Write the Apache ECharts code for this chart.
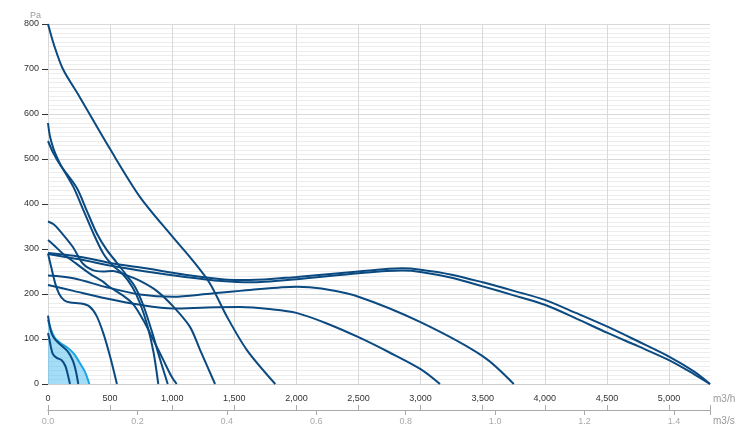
<!DOCTYPE html>
<html>
<head>
<meta charset="utf-8">
<script src="https://cdn.jsdelivr.net/npm/echarts@6/dist/echarts.min.js"></script>
<style>html,body{margin:0;padding:0;background:#fff}#c{width:750px;height:446px}</style>
</head>
<body>
<div id="c"></div>
<script>
// Airflow (m3/h) vs pressure (Pa) curves
const curveLight = [[0,143],[20,124],[56,102],[100,91],[160,80],[210,67],[258,46],[298,27],[333,0]];
const curve150 = [[0,152],[12,132],[30,112],[60,98],[110,85],[160,72],[200,52],[225,28],[244,0]];
const curve110 = [[0,113],[12,98],[25,80],[40,66],[70,58],[110,53],[140,40],[160,20],[177,0]];
const curve800 = [[0,800],[50,752],[120,700],[250,640],[500,522],[740,416],[1000,328],[1140,283],[1300,225],[1440,150],[1600,76],[1830,0]];
const curve580 = [[0,580],[16,550],[45,522],[70,505],[100,488],[204,438],[284,387],[365,335],[445,290],[526,262],[600,245],[680,215],[740,180],[800,130],[850,70],[888,0]];
const curve540 = [[0,540],[43,513],[100,486],[231,436],[311,386],[392,335],[473,298],[553,270],[620,246],[700,216],[767,175],[835,118],[902,55],[964,0]];
const curve360 = [[0,361],[45,355],[91,342],[199,305],[279,268],[360,253],[440,250],[521,251],[620,243],[741,229],[875,207],[1009,172],[1143,127],[1224,76],[1345,0]];
const curve320 = [[0,320],[50,308],[118,290],[225,268],[333,246],[440,228],[499,215],[606,196],[687,177],[767,142],[848,98],[929,53],[996,16],[1036,0]];
const curve290c = [[0,290],[30,255],[60,222],[90,200],[130,186],[180,181],[260,179],[330,173],[390,152],[445,113],[500,61],[555,0]];
const curve290a = [[0,291],[252,283],[521,268],[789,257],[1103,243],[1400,233],[1626,231],[2002,238],[2499,250],[2850,257],[3000,254],[3250,243],[3500,226],[3750,207],[4000,187],[4250,158],[4500,128],[4750,95],[5000,61],[5200,28],[5330,0]];
const curve290b = [[0,289],[252,277],[521,262],[789,250],[1103,238],[1400,229],[1626,226],[2002,233],[2499,246],[2850,252],[3000,249],[3250,236],[3500,217],[3750,197],[4000,176],[4250,146],[4500,114],[4750,84],[5000,53],[5200,22],[5330,0]];
const curve240 = [[0,241],[204,235],[472,215],[741,199],[1009,194],[1278,200],[1626,209],[2002,216],[2200,212],[2499,194],[2995,138],[3505,61],[3750,0]];
const curve220 = [[0,220],[204,207],[472,190],[741,176],[1009,168],[1278,170],[1546,171],[1800,166],[2000,158],[2250,134],[2500,104],[2750,70],[3000,33],[3156,0]];
const darkCurves = [curve800, curve580, curve540, curve360, curve320, curve290c, curve290a, curve290b, curve240, curve220, curve150, curve110];

const xMaxM3h = 5330;
const xTicksM3h = [0, 500, 1000, 1500, 2000, 2500, 3000, 3500, 4000, 4500, 5000];
const xTicksM3s = [0, 0.2, 0.4, 0.6, 0.8, 1.0, 1.2, 1.4];
const yTicks = {min: 0, max: 800, interval: 100};
const xUnit = 'm3/h', x2Unit = 'm3/s', yUnit = 'Pa';

const FONT = 'Liberation Sans, Arial, sans-serif';
const DARK = '#0b4a80';

const series = [{
  type: 'line', data: curveLight, showSymbol: false, smooth: 0.3,
  lineStyle: {color: '#1ba6e2', width: 2}, itemStyle: {color: '#1ba6e2'},
  areaStyle: {color: 'rgba(70,185,238,0.7)'}, z: 2
}];
darkCurves.forEach(function (d) {
  series.push({
    type: 'line', data: d, showSymbol: false, smooth: 0.3,
    lineStyle: {color: DARK, width: 2}, itemStyle: {color: DARK}, z: 3
  });
});

const chart = echarts.init(document.getElementById('c'), null, {renderer: 'canvas'});
chart.setOption({
  animation: false,
  textStyle: {fontFamily: FONT},
  grid: {left: 48, right: 40, top: 24, bottom: 62, containLabel: false},
  xAxis: [{
    type: 'value', min: 0, max: xMaxM3h, interval: 500, position: 'bottom',
    name: xUnit, nameLocation: 'end', nameGap: 3,
    nameTextStyle: {color: '#999', fontSize: 10, fontFamily: FONT, align: 'left', verticalAlign: 'top', padding: [10, 0, 0, 0]},
    axisLine: {show: true, lineStyle: {color: '#cccccc'}},
    axisTick: {show: false},
    axisLabel: {color: '#333', fontSize: 9, fontFamily: FONT, margin: 10, customValues: xTicksM3h,
      formatter: function (v) { return v.toLocaleString('en-US'); }},
    splitLine: {show: true, showMaxLine: false, lineStyle: {color: '#d9d9d9'}}
  }, {
    type: 'value', min: 0, max: xMaxM3h, interval: 500, position: 'bottom', offset: 26,
    axisLine: {show: true, lineStyle: {color: '#aaaaaa'}},
    axisTick: {show: true, inside: true, length: 5, lineStyle: {color: '#aaaaaa'}},
    axisLabel: {show: false}, splitLine: {show: false}
  }, {
    type: 'value', min: 0, max: xMaxM3h / 3600, interval: 0.2, position: 'bottom', offset: 26,
    name: x2Unit, nameLocation: 'end', nameGap: 3,
    nameTextStyle: {color: '#999', fontSize: 10, fontFamily: FONT, align: 'left', verticalAlign: 'top', padding: [6, 0, 0, 0]},
    axisLine: {show: true, lineStyle: {color: '#aaaaaa'}},
    axisTick: {show: true, length: 5, lineStyle: {color: '#aaaaaa'}},
    axisLabel: {color: '#aaaaaa', fontSize: 9, fontFamily: FONT, margin: 7, customValues: xTicksM3s,
      formatter: function (v) { return v.toFixed(1); }},
    splitLine: {show: false}
  }],
  yAxis: {
    type: 'value', min: yTicks.min, max: yTicks.max, interval: yTicks.interval,
    name: yUnit, nameLocation: 'end', nameGap: 3,
    nameTextStyle: {color: '#999', fontSize: 9, fontFamily: FONT, align: 'right', verticalAlign: 'bottom', padding: [0, 7, 0, 0]},
    axisLine: {show: false},
    axisTick: {show: true, length: 6, lineStyle: {color: '#333'}},
    axisLabel: {color: '#333', fontSize: 9, fontFamily: FONT, margin: 9},
    splitLine: {show: true, lineStyle: {color: '#d9d9d9'}},
    minorTick: {show: false, splitNumber: 10},
    minorSplitLine: {show: true, lineStyle: {color: '#ededed'}}
  },
  series: series
});
</script>
</body>
</html>
